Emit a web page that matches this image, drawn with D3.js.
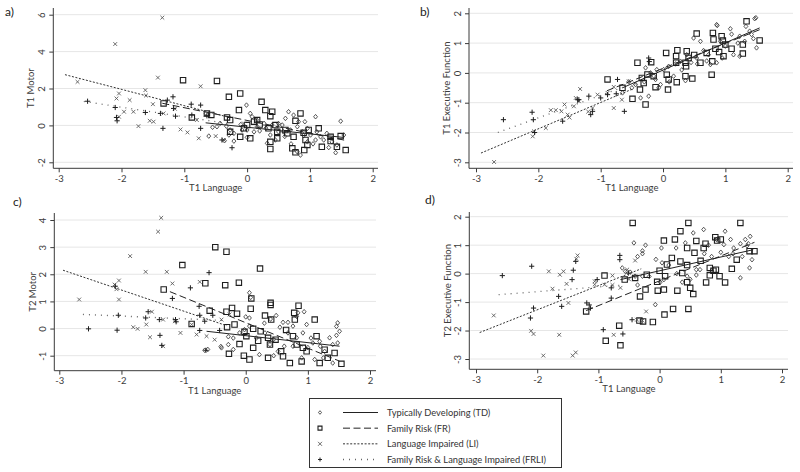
<!DOCTYPE html>
<html><head><meta charset="utf-8">
<script src="https://cdnjs.cloudflare.com/ajax/libs/d3/7.8.5/d3.min.js"></script>
<style>body{margin:0;background:#fff}svg{display:block;font-family:Lato,"Open Sans",sans-serif}</style>
</head><body>
<script>
// ---------- data ----------
const xTicks = [-3,-2,-1,0,1,2];
const yTicks_a = [-2,0,2,4,6];
const yTicks_b = [-3,-2,-1,0,1,2];
const yTicks_c = [-1,0,1,2,3,4];
const yTicks_d = [-3,-2,-1,0,1,2];
const xTitle = "T1 Language";
const yTitles = ["T1 Motor","T1 Executive Function","T2 Motor","T2 Executive Function"];
const panelTags = ["a)","b)","c)","d)"];
const groups = ["Typically Developing (TD)","Family Risk (FR)","Language Impaired (LI)","Family Risk & Language Impaired (FRLI)"];

// panel a: T1 Motor
const td_a = [[-0.01,1.1],[0.05,0.65],[0.08,0.47],[0.66,0.74],[0.74,0.56],[0.82,0.2],[0.61,0.38],[1.09,0.47],[1.49,0.23],[0.92,0.2],[0.56,0.02],[0.4,0.02],[0.27,0.11],[-0.43,0.11],[-0.48,-0.07],[-0.33,-0.04],[-0.27,-0.25],[-0.21,-0.43],[-0.29,-0.52],[-0.36,-0.83],[-0.21,-0.85],[0,-0.65],[0,-0.25],[0.16,-0.07],[0.37,-0.52],[0.5,-0.35],[0.69,-0.25],[0.88,-0.35],[1.01,-0.52],[1.11,-0.35],[1.17,-0.62],[1.27,-0.43],[1.35,-0.89],[1.43,-1.06],[1.41,-1.48],[0.85,-1.61],[0.8,-1.43],[0.96,-0.89],[1.09,-0.79],[1.54,-0.52],[0.45,-0.79],[0.32,-0.97],[1.22,-0.79],[0.58,-0.35],[0.96,-0.16],[-0.61,-0.58],[0.8,-0.07],[0.11,-0.35],[-0.08,-0.25],[0.2,-0.3],[0.6,-0.6],[0.9,-0.55],[1.05,-1.0],[0.7,-1.0],[0.3,-0.15],[-0.1,0.05],[0.15,0.3],[-0.55,-0.1],[1.3,-1.2],[0.5,0.1]];
const fr_a = [[-1.02,2.45],[-0.48,2.41],[-0.29,1.55],[-0.11,1.73],[0.23,1.28],[-1.33,1.19],[-0.13,0.83],[0.29,0.83],[0.4,0.74],[0.37,0.5],[-0.64,0.65],[-0.57,0.57],[-0.88,0.43],[-0.32,0.43],[-0.27,0.29],[0.85,0.65],[0.77,0.25],[1.14,-0.16],[0.98,-0.25],[0,0.02],[0.11,0.2],[0.16,0.29],[0.34,-0.16],[0.45,0.02],[0.48,-0.35],[0.64,-0.43],[0.74,-0.62],[-0.11,-0.62],[0.05,-0.7],[-0.27,-0.35],[0.72,-1.24],[0.77,-1.46],[0.91,-1.34],[0.96,-1.06],[0.93,-0.79],[0.37,-1.28],[0.37,-0.89],[0.48,-0.7],[1.19,-1.16],[1.33,-0.85],[1.43,-1.16],[1.57,-1.34],[1.33,-0.62],[1.49,-0.58],[-0.05,-0.16],[0.61,-0.25],[0.2,0.05],[0.9,-0.4]];
const li_a = [[-1.35,5.84],[-2.1,4.41],[-1.42,2.59],[-2.7,2.36],[-0.74,2.12],[-1.62,1.91],[-2.04,1.73],[-1.61,1.62],[-2.08,1.46],[-1.87,1.37],[-1.5,1.15],[-1.96,0.74],[-1.81,0.74],[-2.04,0.47],[-1.55,0.25],[-1.49,0.2],[-1.73,-0.04],[-1.06,-0.22],[-0.95,-0.38],[-0.77,-0.7],[-1.33,0.65],[-0.66,0.56],[-0.5,-0.58],[-0.37,-0.79],[-0.8,0.29],[-1.15,0.9],[-0.05,0.1]];
const frli_a = [[-2.54,1.31],[-2.1,0.97],[-2.08,0.43],[-2.07,0.25],[-1.62,0.7],[-1.38,0.65],[-1.18,1.55],[-1.27,1.37],[-1.17,0.92],[-1.14,0.5],[-0.89,1.15],[-0.74,1.1],[-0.88,0.56],[-1.34,-0.16],[-0.74,-0.16],[-0.24,-1.21],[-0.4,-0.79],[-0.64,0.52]];
const fit_a = [[-0.66,0.14,1.53,-0.65],[-1.35,1.2,1.55,-0.8],[-2.9,2.75,-0.3,0.45],[-2.6,1.3,-0.3,0.1]];

// panel b: T1 Executive Function
const td_b = [[0.87,1.59],[1.08,1.48],[1.33,1.56],[1.49,1.85],[1.47,1.82],[0.49,1.17],[0.6,1.06],[0.92,1.06],[1.23,1.23],[1.31,1.06],[1.42,1.29],[1.5,0.84],[1.13,0.61],[0.86,0.34],[0.76,0.28],[0.54,0.5],[0.38,0.61],[0.28,0.39],[0.09,0.22],[0.01,0.11],[-0.1,0.11],[-0.2,0],[-0.28,0.17],[-0.12,-0.22],[-0.04,-0.39],[0.17,-0.11],[0.36,-0.26],[-0.23,-0.78],[-0.36,-0.84],[-0.07,-0.5],[-0.44,-0.39],[-0.65,-0.67],[0.73,0.61],[1.23,0.56],[1.39,1.4],[0.86,1.62],[1.0,0.9],[0.65,0.75],[0.45,0.35],[0.2,0.3],[-0.3,-0.3],[-0.5,-0.5],[1.2,1.0],[1.45,1.15],[0.95,0.5],[0.7,0.4],[0.1,-0.3],[1.1,1.3],[0.3,0.1],[-0.15,-0.1],[-0.55,-0.3],[0.55,0.3]];
const fr_b = [[1.34,1.73],[0.54,1.32],[0.8,1.34],[0.94,1.23],[0.81,1.12],[0.96,1.09],[1.55,1.09],[1.28,0.95],[1.1,0.81],[1.28,0.65],[0.84,0.81],[0.7,0.67],[0.97,0.56],[0.38,0.73],[0.23,0.76],[0.05,0.67],[0.21,0.56],[0.41,0.5],[0.36,0.34],[0.21,0.34],[0.6,0.34],[0.79,0.39],[-0.41,0.34],[-0.19,0.36],[-0.89,-0.22],[-0.34,-0.17],[-0.15,-0.11],[0.06,-0.06],[0.09,-0.22],[-0.31,-0.34],[-0.37,-0.56],[-0.12,-0.48],[0.08,-0.56],[0.22,-0.31],[0.36,-0.11],[0.47,-0.19],[0.37,0.22],[-0.28,-1.06],[-0.49,-0.87],[-0.65,-0.5],[0.78,-0.06],[1.0,0.95],[0.9,0.7],[0.5,0.6],[-0.25,-0.05]];
const li_b = [[-2.71,-2.99],[-2.09,-2.13],[-2.07,-1.96],[-1.88,-1.85],[-1.8,-1.25],[-1.72,-1.25],[-1.63,-1.29],[-1.58,-1.06],[-1.53,-1.4],[-1.43,-1.12],[-1.4,-0.84],[-1.33,-0.54],[-1.13,-1.18],[-1.05,-0.73],[-0.89,-0.67],[-0.79,-1.18],[-0.79,-0.47],[-0.66,-0.9],[-0.55,-0.28],[-1.5,-1.5],[-1.35,-0.95],[-1.2,-1.3],[-0.45,-0.35]];
const frli_b = [[-2.56,-1.57],[-2.1,-1.32],[-2.08,-1.57],[-2.06,-2.0],[-1.61,-1.62],[-1.37,-0.9],[-1.13,-1.29],[-1.16,-1.4],[-1.19,-0.78],[-0.73,-0.22],[-0.89,-0.73],[-0.62,-1.29],[-0.23,0.5],[-0.22,0.38],[-1.0,-0.84],[-0.75,-0.7],[-1.35,-0.9]];
const fit_b = [[-0.65,-0.5,1.55,1.51],[-0.9,-0.6,1.55,1.45],[-2.92,-2.69,-0.5,-0.55],[-2.65,-2.0,-0.6,-0.45]];

// panel c: T2 Motor
const td_c = [[0.06,1.32],[0.08,1.15],[0,0.43],[0.06,0.39],[0.49,0.48],[0.4,0.35],[0.6,0.23],[0.68,0.23],[0.76,0.09],[0.84,0.58],[0.82,0.45],[0.98,0.15],[0.68,-0.16],[0.82,-0.34],[0.92,-0.16],[1.08,-0.53],[1.19,-0.47],[1.27,-0.84],[1.35,-0.34],[1.48,0.21],[1.46,0.08],[1.51,-0.1],[1.46,-0.25],[1.48,-0.53],[1.4,-1.27],[1.11,-1.14],[1.25,-1.08],[0.9,-1.08],[0.22,-0.96],[-0.2,-0.77],[-0.28,-0.59],[-0.39,-0.71],[-0.61,-0.77],[-0.28,-0.3],[-0.2,-0.35],[-0.1,-0.16],[-0.02,-0.04],[0.06,0.09],[0.17,-0.35],[0.31,-0.16],[0.39,-0.59],[0.45,-0.4],[0.52,-0.84],[0.62,-0.65],[0.76,-0.65],[1.0,-0.7],[1.2,-0.65],[1.05,-0.35],[0.45,-1.0],[0.94,0.62],[1.4,-0.59],[-0.66,-0.8],[-0.4,-0.66],[0.3,0.2],[0.55,0.05]];
const fr_c = [[-0.49,3.0],[-0.31,2.83],[-1.02,2.34],[0.23,2.21],[-0.65,1.67],[-0.33,1.6],[-0.11,1.69],[-1.32,1.44],[0.09,1.11],[0.4,0.95],[0.4,0.87],[0.85,0.84],[-0.58,0.66],[-0.31,0.62],[-0.22,0.76],[-0.14,0.55],[0.08,0.73],[0.31,0.48],[0.41,0.33],[0.78,0.58],[0.79,0.33],[1.11,0.33],[-0.87,0.17],[-0.18,0.15],[0.12,-0.01],[0.24,-0.1],[-0.02,-0.12],[-0.1,-0.57],[-0.03,-1.0],[0.06,-1.14],[-0.27,-0.93],[0.12,-0.71],[0.36,-0.34],[0.39,-0.59],[0.48,-0.41],[0.57,-0.84],[0.36,-1.08],[0.6,-1.02],[0.71,-1.27],[0.76,-0.28],[0.82,-0.59],[0.92,-0.71],[0.9,-1.21],[0.98,-0.84],[1.14,-0.28],[1.27,-0.78],[1.32,-1.08],[1.19,-1.27],[1.43,-0.9],[1.54,-1.3],[0.01,-0.28],[0.2,-0.45],[0.65,-0.05],[-0.3,0.05]];
const li_c = [[-1.36,4.08],[-1.41,3.57],[-1.86,2.67],[-1.61,2.09],[-1.27,2.09],[-2.04,1.77],[-1.18,1.66],[-0.74,1.72],[-2.11,1.62],[-2.04,1.07],[-2.68,1.07],[-1.51,0.62],[-1.6,0.15],[-1.81,0.05],[-1.74,-0.01],[-1.54,-0.32],[-1.33,-0.65],[-1.05,-0.16],[-0.87,0.15],[-0.79,-0.22],[-0.63,-0.28],[-0.5,-0.41],[-0.39,0.33],[-1.33,0.33],[-1.14,0.27],[-0.26,0.52],[-2.08,1.45]];
const frli_c = [[-2.53,-0.01],[-2.07,-0.06],[-2.05,0.49],[-2.1,1.56],[-1.57,0.62],[-1.61,0.39],[-1.39,0.33],[-1.38,-0.25],[-1.35,-0.62],[-1.18,1.11],[-1.13,0.33],[-1.12,0.25],[-0.89,1.5],[-0.59,2.06],[-0.75,0.82],[-0.74,0.49],[-0.66,0.27],[-0.74,-0.07],[-0.64,-0.8],[-0.42,-0.07],[-0.53,0.49]];
const fit_c = [[-0.63,-0.1,1.51,-0.65],[-1.22,1.36,1.51,-1.2],[-2.94,2.15,-0.3,0.1],[-2.62,0.52,-0.35,0.3]];

// panel d: T2 Executive Function
const td_d = [[-0.42,1.08],[-0.23,1.0],[-0.28,0.8],[0.03,0.9],[0.27,0.9],[0.42,1.08],[0.55,1.43],[0.72,1.55],[1.07,1.49],[0.93,1.2],[1.05,1.02],[1.16,1.2],[1.21,0.9],[1.32,1.05],[1.4,1.2],[1.43,0.98],[1.48,1.31],[1.45,1.05],[1.51,0.49],[1.47,0.2],[1.32,-0.15],[1.35,0.6],[1.13,0.6],[1.0,0.75],[0.85,0.6],[0.73,0.7],[0.66,0.14],[0.6,0.14],[0.45,-0.09],[0.37,-0.3],[0.5,-0.2],[0.28,0.0],[0.15,0.3],[0.04,0.38],[0.07,-0.21],[0.01,-0.3],[-0.06,0.5],[-0.17,-0.1],[-0.28,-0.09],[-0.36,-0.4],[-0.4,-0.09],[-0.48,0.05],[-0.56,0.08],[-0.61,0.2],[-0.28,0.7],[-0.36,0.6],[-0.07,-1.09],[0.8,1.0],[1.2,0.7],[0.85,0.1],[0.6,-0.05]];
const fr_d = [[1.32,1.78],[-0.44,1.78],[0.47,1.78],[0.34,1.49],[0.07,1.16],[0.25,1.2],[0.6,1.15],[0.75,1.05],[0.91,1.28],[0.94,1.16],[1.0,1.2],[1.47,0.79],[1.26,0.49],[0.72,0.9],[0.57,0.73],[0.45,0.9],[0.34,0.43],[0.2,0.55],[0.12,0.32],[0,0.1],[0.09,-0.09],[-0.21,-0.04],[-0.4,-0.15],[-0.9,-0.07],[-0.57,-0.21],[-0.04,-0.29],[-0.03,-0.6],[0.07,-0.56],[-0.32,-0.8],[-0.23,-0.56],[0.5,-0.5],[0.55,-0.72],[0.29,-0.6],[0.45,-0.3],[0.37,0.02],[0.45,0.3],[0.67,0.45],[0.76,-0.31],[0.82,0.2],[0.82,-0.06],[0.98,-0.09],[0.88,0.1],[1.07,-0.31],[1.18,0.17],[0.92,0.14],[0.08,-1.44],[0.22,-1.24],[0.47,-1.24],[-0.33,-1.65],[-0.27,-1.68],[-0.11,-1.7],[-0.66,-1.83],[-0.88,-2.36],[-0.64,-2.52],[-1.2,-1.33],[1.55,0.79]];
const li_d = [[-2.71,-1.47],[-2.1,-2.01],[-2.06,-2.12],[-1.9,-2.88],[-1.64,-2.15],[-1.42,-2.88],[-1.37,-2.77],[-1.81,0.08],[-1.75,-0.53],[-1.63,-0.04],[-1.57,0.08],[-1.52,-0.36],[-1.34,0.64],[-1.36,0.52],[-1.06,-0.27],[-1.06,-0.38],[-0.9,-0.39],[-0.77,-0.07],[-0.77,-0.4],[-0.64,-0.5],[-0.75,-2.15],[-1.49,-1.03],[-0.53,0.14],[-0.4,0.46],[-0.22,-1.33],[-0.37,-1.62],[-0.28,-1.65],[-0.5,-0.2]];
const frli_d = [[-2.57,-0.07],[-2.09,0.26],[-2.11,-1.56],[-2.06,-1.21],[-1.65,-0.8],[-1.6,-1.15],[-1.41,0.12],[-1.43,-0.21],[-1.37,0.43],[-1.19,-1.03],[-1.13,-1.21],[-0.92,-1.97],[-0.65,0.64],[-0.65,0.49],[-0.6,-2.12],[-0.79,-0.86],[-0.79,-0.5],[-0.51,0.02],[-0.45,-1.62],[-1.02,-0.21],[-1.15,-1.1]];
const fit_d = [[-0.64,-0.21,1.53,0.84],[-1.2,-1.3,1.55,1.1],[-2.94,-2.07,-0.3,0.17],[-2.63,-0.74,-0.6,-0.4]];

// ---------- layout / styles ----------
const W = 800, H = 472;
const svg = d3.select("body").append("svg").attr("width", W).attr("height", H);

const sym = {
  diamond: {draw(c, s){ c.moveTo(0,-s); c.lineTo(s*0.85,0); c.lineTo(0,s); c.lineTo(-s*0.85,0); c.closePath(); }},
  square:  {draw(c, s){ c.rect(-s,-s,2*s,2*s); }},
  times:   {draw(c, s){ c.moveTo(-s,-s); c.lineTo(s,s); c.moveTo(s,-s); c.lineTo(-s,s); }},
  plus:    {draw(c, s){ c.moveTo(-s,0); c.lineTo(s,0); c.moveTo(0,-s); c.lineTo(0,s); }}
};
const gStyle = [
  {sym: sym.diamond, size: 2.3, stroke: "#3a3a3a", sw: 0.85, dash: null, lineColor: "#222"},
  {sym: sym.square,  size: 2.7, stroke: "#1e1e1e", sw: 1.1, dash: "7,3.5", lineColor: "#222"},
  {sym: sym.times,   size: 1.9, stroke: "#555", sw: 0.85, dash: "2,1.6", lineColor: "#333"},
  {sym: sym.plus,    size: 2.6, stroke: "#1e1e1e", sw: 1.0, dash: "1,5", lineColor: "#666"}
];

const panels = [
  {tag: panelTags[0], tagXY:[5,16], yTitle: yTitles[0], groups:[td_a,fr_a,li_a,frli_a], fits: fit_a, yTicks: yTicks_a,
   xr:[58.7,372.7], yd:[-2,6], yr:[162.3,14.7], left:53.3, bottom:168.3, top:8, right:378, yTitleX:30.5},
  {tag: panelTags[1], tagXY:[420,16], yTitle: yTitles[1], groups:[td_b,fr_b,li_b,frli_b], fits: fit_b, yTicks: yTicks_b,
   xr:[476,787.7], yd:[-3,2], yr:[162.3,13.3], left:469, bottom:168.3, top:8, right:793, yTitleX:446.7},
  {tag: panelTags[2], tagXY:[13,206], yTitle: yTitles[2], groups:[td_c,fr_c,li_c,frli_c], fits: fit_c, yTicks: yTicks_c,
   xr:[59.3,370], yd:[-1,4], yr:[355.7,220], left:54.3, bottom:370.7, top:213, right:376, yTitleX:32},
  {tag: panelTags[3], tagXY:[425,204], yTitle: yTitles[3], groups:[td_d,fr_d,li_d,frli_d], fits: fit_d, yTicks: yTicks_d,
   xr:[476,782], yd:[-3,2], yr:[359,216.7], left:469.3, bottom:369.3, top:212, right:788, yTitleX:447.5}
];

const axisColor = "#3a3a3a", textColor = "#3c3c3c";
const fmt = d => String(d);

panels.forEach(p => {
  const x = d3.scaleLinear().domain([-3,2]).range(p.xr);
  const y = d3.scaleLinear().domain(p.yd).range(p.yr);
  const g = svg.append("g");

  // gridlines
  g.selectAll(".grid").data(p.yTicks).join("line")
    .attr("x1", p.left + 1).attr("x2", p.right)
    .attr("y1", d => y(d)).attr("y2", d => y(d))
    .attr("stroke", "#e6e6e6").attr("stroke-width", 1);

  // x axis
  const xa = g.append("g").attr("transform", `translate(0,${p.bottom})`)
    .call(d3.axisBottom(x).tickValues(xTicks).tickFormat(fmt).tickSize(4).tickSizeOuter(0).tickPadding(3));
  xa.select(".domain").attr("d", `M${p.left},0H${p.right}`).attr("stroke", axisColor);
  xa.selectAll(".tick line").attr("stroke", axisColor);
  xa.selectAll(".tick text").attr("font-size", 9.5).attr("fill", textColor).attr("font-family", "Lato, sans-serif");

  // y axis
  const ya = g.append("g").attr("transform", `translate(${p.left},0)`)
    .call(d3.axisLeft(y).tickValues(p.yTicks).tickFormat(fmt).tickSize(4).tickSizeOuter(0).tickPadding(3));
  ya.select(".domain").attr("d", `M0,${p.top}V${p.bottom}`).attr("stroke", axisColor);
  ya.selectAll(".tick line").attr("stroke", axisColor);
  ya.selectAll(".tick text").attr("font-size", 9.5).attr("fill", textColor).attr("font-family", "Lato, sans-serif")
    .attr("x", 0).attr("y", 0).attr("dy", 0).attr("text-anchor", "middle").attr("dominant-baseline", "central")
    .attr("transform", "translate(-12,0) rotate(-90)");

  // titles
  g.append("text").attr("x", x(-0.5)).attr("y", p.bottom + 23)
    .attr("text-anchor", "middle").attr("font-size", 9.5).attr("fill", textColor).text(xTitle);
  g.append("text").attr("transform", `translate(${p.yTitleX},${(p.top + p.bottom) / 2}) rotate(-90)`)
    .attr("text-anchor", "middle").attr("dominant-baseline", "central")
    .attr("font-size", 9.5).attr("fill", textColor).text(p.yTitle);
  g.append("text").attr("x", p.tagXY[0]).attr("y", p.tagXY[1])
    .attr("font-size", 12).attr("fill", "#222").text(p.tag);

  // points
  p.groups.forEach((pts, gi) => {
    const st = gStyle[gi];
    g.append("g").selectAll("path").data(pts).join("path")
      .attr("d", d3.symbol().type(st.sym).size(st.size))
      .attr("transform", d => `translate(${x(d[0])},${y(d[1])})`)
      .attr("fill", "none").attr("stroke", st.stroke).attr("stroke-width", st.sw);
  });

  // fit lines
  p.fits.forEach((f, gi) => {
    const st = gStyle[gi];
    g.append("line")
      .attr("x1", x(f[0])).attr("y1", y(f[1])).attr("x2", x(f[2])).attr("y2", y(f[3]))
      .attr("stroke", st.lineColor).attr("stroke-width", gi === 3 ? 1.3 : 1)
      .attr("stroke-dasharray", st.dash);
  });
});

// ---------- legend ----------
const lg = svg.append("g");
lg.append("rect").attr("x", 309.5).attr("y", 398.5).attr("width", 252).attr("height", 69)
  .attr("fill", "#fff").attr("stroke", "#333").attr("stroke-width", 1);
const rowY = d3.scalePoint().domain(d3.range(groups.length)).range([412.5, 459.5]);
groups.forEach((name, i) => {
  const st = gStyle[i];
  const yy = rowY(i);
  lg.append("path").attr("d", d3.symbol().type(st.sym).size(i === 0 ? 1.8 : 2))
    .attr("transform", `translate(320,${yy})`)
    .attr("fill", "none").attr("stroke", st.stroke).attr("stroke-width", st.sw);
  lg.append("line").attr("x1", 343).attr("x2", 378).attr("y1", yy).attr("y2", yy)
    .attr("stroke", st.lineColor).attr("stroke-width", i === 3 ? 1.3 : 1).attr("stroke-dasharray", st.dash);
  lg.append("text").attr("x", 387).attr("y", yy).attr("dominant-baseline", "central")
    .attr("font-size", 9.3).attr("fill", "#333").text(name);
});
</script>
</body></html>
